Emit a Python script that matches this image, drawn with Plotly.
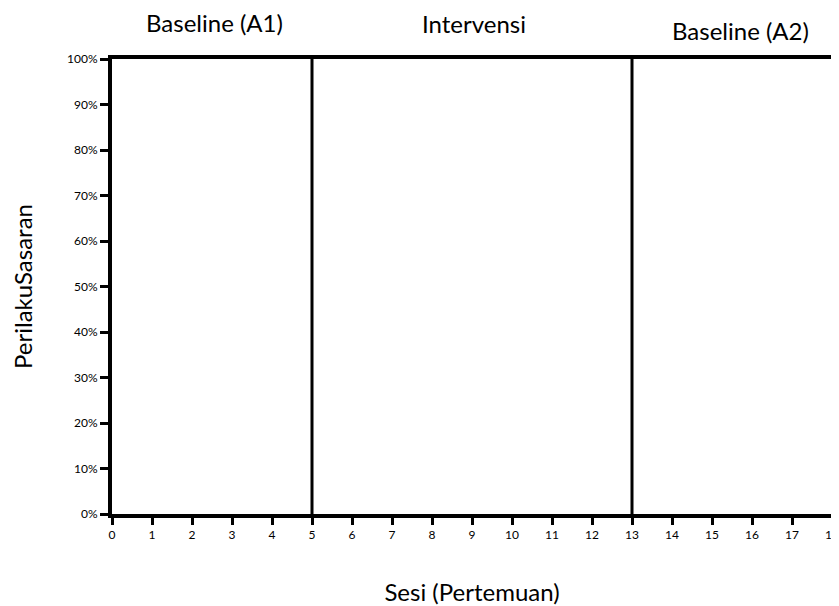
import plotly.graph_objects as go

# Data
sessions = list(range(0, 19))
y_ticks = list(range(0, 101, 10))
y_tick_labels = [f"{v}%" for v in y_ticks]
phase_names = ["Baseline (A1)", "Intervensi", "Baseline (A2)"]
phase_label_x = [2.55, 9.05, 15.7]
phase_boundaries = [5, 13]

fig = go.Figure()
# invisible trace to establish axes
fig.add_trace(go.Scatter(x=[sessions[0], sessions[-1]], y=[y_ticks[0], y_ticks[-1]],
                         mode="markers", marker=dict(opacity=0), hoverinfo="skip",
                         showlegend=False))

for b in phase_boundaries:
    fig.add_shape(type="line", x0=b, x1=b, y0=0, y1=100, xref="x", yref="y",
                  line=dict(color="black", width=3))

label_y = [1.081, 1.077, 1.062]
for name, lx, ly in zip(phase_names, phase_label_x, label_y):
    fig.add_annotation(text=name, x=lx, y=ly, xref="x", yref="paper",
                       showarrow=False, font=dict(size=24, color="black", family="Lato"),
                       yanchor="middle")

# page body has an 8px default margin, so the figure is sized to fill the 839x606 window
fig.update_layout(
    width=831, height=598,
    margin=dict(l=104, r=7, t=51, b=92),
    plot_bgcolor="white", paper_bgcolor="white",
    font=dict(family="Lato", color="black"),
    showlegend=False,
    xaxis=dict(range=[0, 18], tickvals=sessions, ticktext=[str(s) for s in sessions],
               showgrid=False, zeroline=False, showline=True, linecolor="black",
               linewidth=4, mirror=True, ticks="outside", ticklen=7, tickwidth=3,
               tickcolor="black", tickfont=dict(size=12), automargin=False,
               title=dict(text="Sesi (Pertemuan)", font=dict(size=24), standoff=44)),
    yaxis=dict(range=[0, 100], tickvals=y_ticks, ticktext=y_tick_labels,
               showgrid=False, zeroline=False, showline=True, linecolor="black",
               linewidth=4, mirror=True, ticks="outside", ticklen=8, tickwidth=3,
               tickcolor="black", tickfont=dict(size=12), automargin=False,
               title=dict(text="PerilakuSasaran", font=dict(size=24), standoff=30)),
)

fig.write_html("out.html")
